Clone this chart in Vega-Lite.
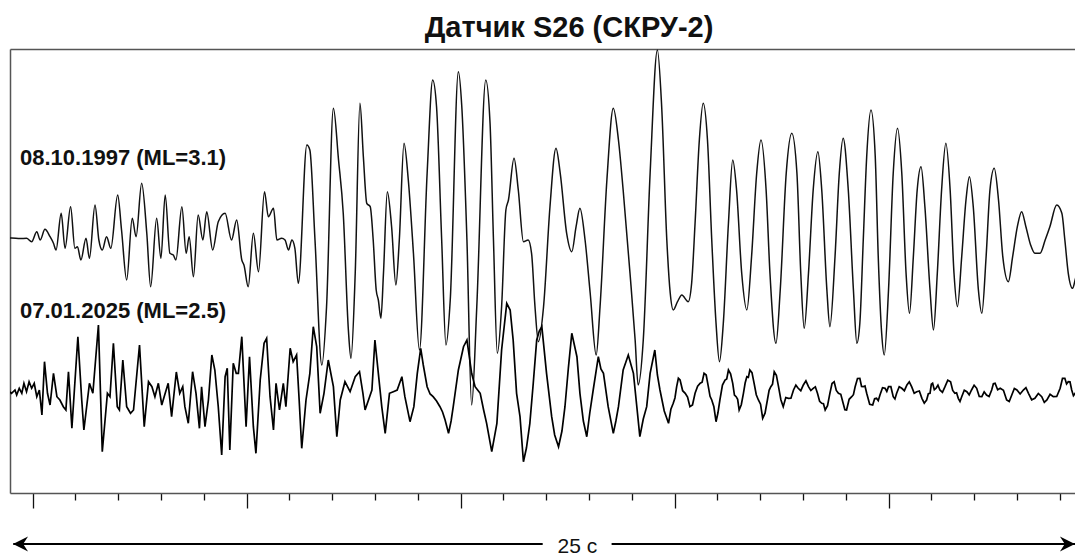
{
"$schema": "https://vega.github.io/schema/vega-lite/v6.json",
"width": 1065, "height": 444,
"autosize": {"type": "none"},
"padding": {"left": 10, "top": 49, "right": 0, "bottom": 63},
"background": "white",
"config": {"view": {"stroke": null}},
"datasets": {
"wave": [
{"s":"A","t":-0.53,"v":255},{"s":"A","t":-0.49,"v":255},{"s":"A","t":-0.29,"v":254.5},{"s":"A","t":-0.14,"v":254.7},{"s":"A","t":-0.02,"v":251.3},{"s":"A","t":0.1,"v":261.3},{"s":"A","t":0.18,"v":253},{"s":"A","t":0.29,"v":263.7},{"s":"A","t":0.41,"v":256.3},{"s":"A","t":0.49,"v":249.7},{"s":"A","t":0.55,"v":243},{"s":"A","t":0.67,"v":279.7},{"s":"A","t":0.76,"v":244.7},{"s":"A","t":0.89,"v":286.3},{"s":"A","t":0.99,"v":244.7},{"s":"A","t":1.05,"v":246.3},{"s":"A","t":1.13,"v":233},{"s":"A","t":1.25,"v":254.7},{"s":"A","t":1.33,"v":234.7},{"s":"A","t":1.46,"v":288},{"s":"A","t":1.55,"v":253},{"s":"A","t":1.63,"v":243},{"s":"A","t":1.73,"v":256.3},{"s":"A","t":1.83,"v":244.7},{"s":"A","t":1.99,"v":298},{"s":"A","t":2.08,"v":263},{"s":"A","t":2.2,"v":213},{"s":"A","t":2.33,"v":274.7},{"s":"A","t":2.42,"v":256.3},{"s":"A","t":2.55,"v":309.7},{"s":"A","t":2.67,"v":259.7},{"s":"A","t":2.76,"v":206.3},{"s":"A","t":2.9,"v":274.7},{"s":"A","t":3.0,"v":234.7},{"s":"A","t":3.1,"v":298},{"s":"A","t":3.21,"v":239.7},{"s":"A","t":3.29,"v":238},{"s":"A","t":3.35,"v":233},{"s":"A","t":3.49,"v":286.3},{"s":"A","t":3.59,"v":239.7},{"s":"A","t":3.66,"v":256.3},{"s":"A","t":3.76,"v":216.3},{"s":"A","t":3.87,"v":278},{"s":"A","t":3.98,"v":253},{"s":"A","t":4.07,"v":281.3},{"s":"A","t":4.21,"v":243},{"s":"A","t":4.34,"v":271.3},{"s":"A","t":4.5,"v":279.7},{"s":"A","t":4.65,"v":253},{"s":"A","t":4.77,"v":273},{"s":"A","t":4.89,"v":233},{"s":"A","t":4.94,"v":228},{"s":"A","t":5.04,"v":206.3},{"s":"A","t":5.16,"v":259.7},{"s":"A","t":5.28,"v":221.3},{"s":"A","t":5.42,"v":301.3},{"s":"A","t":5.51,"v":276.3},{"s":"A","t":5.63,"v":284.7},{"s":"A","t":5.71,"v":253},{"s":"A","t":5.82,"v":254.7},{"s":"A","t":5.9,"v":253},{"s":"A","t":5.98,"v":243},{"s":"A","t":6.06,"v":253},{"s":"A","t":6.13,"v":244.7},{"s":"A","t":6.21,"v":209.7},{"s":"A","t":6.41,"v":348},{"s":"A","t":6.48,"v":343},{"s":"A","t":6.6,"v":253},{"s":"A","t":6.76,"v":128},{"s":"A","t":6.87,"v":186.3},{"s":"A","t":7.03,"v":384.7},{"s":"A","t":7.15,"v":333},{"s":"A","t":7.26,"v":279.7},{"s":"A","t":7.38,"v":163},{"s":"A","t":7.44,"v":134.7},{"s":"A","t":7.54,"v":219.7},{"s":"A","t":7.65,"v":389.7},{"s":"A","t":7.73,"v":336.3},{"s":"A","t":7.81,"v":289.7},{"s":"A","t":7.89,"v":286.3},{"s":"A","t":7.96,"v":253},{"s":"A","t":8.03,"v":203},{"s":"A","t":8.08,"v":193},{"s":"A","t":8.14,"v":174.7},{"s":"A","t":8.2,"v":219.7},{"s":"A","t":8.29,"v":301.3},{"s":"A","t":8.39,"v":266.3},{"s":"A","t":8.49,"v":208},{"s":"A","t":8.57,"v":253},{"s":"A","t":8.68,"v":349.7},{"s":"A","t":8.78,"v":313},{"s":"A","t":8.9,"v":239.7},{"s":"A","t":9.04,"v":143},{"s":"A","t":9.22,"v":319.7},{"s":"A","t":9.35,"v":413},{"s":"A","t":9.44,"v":386.3},{"s":"A","t":9.56,"v":253},{"s":"A","t":9.66,"v":148},{"s":"A","t":9.76,"v":193},{"s":"A","t":9.95,"v":421.3},{"s":"A","t":10.03,"v":386.3},{"s":"A","t":10.15,"v":253},{"s":"A","t":10.26,"v":88},{"s":"A","t":10.38,"v":186.3},{"s":"A","t":10.59,"v":413},{"s":"A","t":10.69,"v":369.7},{"s":"A","t":10.77,"v":253},{"s":"A","t":10.86,"v":139.7},{"s":"A","t":10.96,"v":186.3},{"s":"A","t":11.06,"v":283},{"s":"A","t":11.12,"v":293},{"s":"A","t":11.25,"v":334.7},{"s":"A","t":11.35,"v":303},{"s":"A","t":11.47,"v":251.3},{"s":"A","t":11.58,"v":253},{"s":"A","t":11.66,"v":239.7},{"s":"A","t":11.74,"v":186.3},{"s":"A","t":11.82,"v":151.3},{"s":"A","t":11.94,"v":186.3},{"s":"A","t":12.09,"v":286.3},{"s":"A","t":12.23,"v":344.7},{"s":"A","t":12.33,"v":319.7},{"s":"A","t":12.48,"v":259.7},{"s":"A","t":12.6,"v":241.3},{"s":"A","t":12.7,"v":266.3},{"s":"A","t":12.79,"v":284.7},{"s":"A","t":12.91,"v":253},{"s":"A","t":13.03,"v":199.7},{"s":"A","t":13.17,"v":138},{"s":"A","t":13.26,"v":186.3},{"s":"A","t":13.42,"v":313},{"s":"A","t":13.57,"v":384.7},{"s":"A","t":13.69,"v":353},{"s":"A","t":13.8,"v":303},{"s":"A","t":13.96,"v":219.7},{"s":"A","t":14.08,"v":153},{"s":"A","t":14.15,"v":108},{"s":"A","t":14.27,"v":153},{"s":"A","t":14.43,"v":319.7},{"s":"A","t":14.6,"v":443},{"s":"A","t":14.7,"v":386.3},{"s":"A","t":14.82,"v":253},{"s":"A","t":14.9,"v":199.7},{"s":"A","t":14.97,"v":183},{"s":"A","t":15.07,"v":191.3},{"s":"A","t":15.17,"v":198},{"s":"A","t":15.32,"v":191.3},{"s":"A","t":15.4,"v":209.7},{"s":"A","t":15.48,"v":269.7},{"s":"A","t":15.58,"v":353},{"s":"A","t":15.67,"v":389.7},{"s":"A","t":15.77,"v":353},{"s":"A","t":15.87,"v":253},{"s":"A","t":15.97,"v":169.7},{"s":"A","t":16.05,"v":131.3},{"s":"A","t":16.14,"v":169.7},{"s":"A","t":16.26,"v":269.7},{"s":"A","t":16.36,"v":333},{"s":"A","t":16.45,"v":303},{"s":"A","t":16.57,"v":219.7},{"s":"A","t":16.69,"v":183},{"s":"A","t":16.8,"v":236.3},{"s":"A","t":16.92,"v":319.7},{"s":"A","t":17.02,"v":353},{"s":"A","t":17.14,"v":303},{"s":"A","t":17.23,"v":219.7},{"s":"A","t":17.37,"v":149.7},{"s":"A","t":17.47,"v":203},{"s":"A","t":17.61,"v":319.7},{"s":"A","t":17.74,"v":359.7},{"s":"A","t":17.86,"v":319.7},{"s":"A","t":17.95,"v":219.7},{"s":"A","t":18.03,"v":164.7},{"s":"A","t":18.13,"v":219.7},{"s":"A","t":18.24,"v":303},{"s":"A","t":18.35,"v":341.3},{"s":"A","t":18.44,"v":303},{"s":"A","t":18.56,"v":203},{"s":"A","t":18.63,"v":166.3},{"s":"A","t":18.75,"v":236.3},{"s":"A","t":18.85,"v":319.7},{"s":"A","t":18.94,"v":354.7},{"s":"A","t":19.06,"v":303},{"s":"A","t":19.18,"v":203},{"s":"A","t":19.26,"v":149.7},{"s":"A","t":19.33,"v":169.7},{"s":"A","t":19.41,"v":253},{"s":"A","t":19.49,"v":336.3},{"s":"A","t":19.59,"v":383},{"s":"A","t":19.69,"v":336.3},{"s":"A","t":19.76,"v":236.3},{"s":"A","t":19.84,"v":159.7},{"s":"A","t":19.9,"v":138},{"s":"A","t":20.0,"v":203},{"s":"A","t":20.11,"v":319.7},{"s":"A","t":20.21,"v":364.7},{"s":"A","t":20.31,"v":319.7},{"s":"A","t":20.41,"v":219.7},{"s":"A","t":20.49,"v":179.7},{"s":"A","t":20.58,"v":236.3},{"s":"A","t":20.67,"v":303},{"s":"A","t":20.76,"v":326.3},{"s":"A","t":20.85,"v":286.3},{"s":"A","t":20.97,"v":203},{"s":"A","t":21.05,"v":163},{"s":"A","t":21.14,"v":219.7},{"s":"A","t":21.24,"v":303},{"s":"A","t":21.34,"v":349.7},{"s":"A","t":21.44,"v":303},{"s":"A","t":21.53,"v":219.7},{"s":"A","t":21.61,"v":186.3},{"s":"A","t":21.71,"v":236.3},{"s":"A","t":21.81,"v":293},{"s":"A","t":21.89,"v":316.3},{"s":"A","t":21.98,"v":286.3},{"s":"A","t":22.1,"v":203},{"s":"A","t":22.18,"v":179.7},{"s":"A","t":22.28,"v":236.3},{"s":"A","t":22.37,"v":303},{"s":"A","t":22.47,"v":324.7},{"s":"A","t":22.57,"v":293},{"s":"A","t":22.67,"v":236.3},{"s":"A","t":22.8,"v":211.3},{"s":"A","t":22.9,"v":236.3},{"s":"A","t":23.01,"v":266.3},{"s":"A","t":23.11,"v":281.3},{"s":"A","t":23.21,"v":266.3},{"s":"A","t":23.32,"v":248},{"s":"A","t":23.42,"v":239.7},{"s":"A","t":23.54,"v":239.7},{"s":"A","t":23.66,"v":253},{"s":"A","t":23.77,"v":266.3},{"s":"A","t":23.93,"v":288},{"s":"A","t":24.05,"v":279.7},{"s":"A","t":24.12,"v":253},{"s":"A","t":24.2,"v":219.7},{"s":"A","t":24.3,"v":204.7},{"s":"A","t":24.36,"v":213},{"s":"A","t":24.47,"v":233},
{"s":"B","t":-0.53,"v":101},{"s":"B","t":-0.49,"v":99.7},{"s":"B","t":-0.41,"v":103},{"s":"B","t":-0.37,"v":98},{"s":"B","t":-0.31,"v":104.7},{"s":"B","t":-0.25,"v":99.7},{"s":"B","t":-0.2,"v":109.7},{"s":"B","t":-0.14,"v":101.3},{"s":"B","t":-0.08,"v":111.3},{"s":"B","t":-0.02,"v":104.7},{"s":"B","t":0.04,"v":109.7},{"s":"B","t":0.1,"v":96.3},{"s":"B","t":0.16,"v":103},{"s":"B","t":0.22,"v":78},{"s":"B","t":0.28,"v":131.3},{"s":"B","t":0.35,"v":99.7},{"s":"B","t":0.41,"v":88},{"s":"B","t":0.49,"v":119.7},{"s":"B","t":0.57,"v":96.3},{"s":"B","t":0.64,"v":93},{"s":"B","t":0.72,"v":86.3},{"s":"B","t":0.78,"v":83},{"s":"B","t":0.84,"v":121.3},{"s":"B","t":0.92,"v":64.7},{"s":"B","t":1.06,"v":156.3},{"s":"B","t":1.15,"v":93},{"s":"B","t":1.2,"v":63},{"s":"B","t":1.33,"v":109.7},{"s":"B","t":1.41,"v":99.7},{"s":"B","t":1.54,"v":168},{"s":"B","t":1.63,"v":41.3},{"s":"B","t":1.75,"v":99.7},{"s":"B","t":1.81,"v":96.3},{"s":"B","t":1.89,"v":149.7},{"s":"B","t":1.98,"v":86.3},{"s":"B","t":2.03,"v":83},{"s":"B","t":2.11,"v":133},{"s":"B","t":2.2,"v":86.3},{"s":"B","t":2.29,"v":79.7},{"s":"B","t":2.36,"v":83},{"s":"B","t":2.5,"v":148},{"s":"B","t":2.61,"v":66.3},{"s":"B","t":2.71,"v":111.3},{"s":"B","t":2.79,"v":106.3},{"s":"B","t":2.86,"v":96.3},{"s":"B","t":2.94,"v":109.7},{"s":"B","t":3.02,"v":88},{"s":"B","t":3.1,"v":99.7},{"s":"B","t":3.17,"v":109.7},{"s":"B","t":3.25,"v":76.3},{"s":"B","t":3.36,"v":121},{"s":"B","t":3.44,"v":99.7},{"s":"B","t":3.51,"v":106.3},{"s":"B","t":3.56,"v":86.3},{"s":"B","t":3.64,"v":69.7},{"s":"B","t":3.74,"v":121.3},{"s":"B","t":3.82,"v":99.7},{"s":"B","t":3.9,"v":64.7},{"s":"B","t":3.95,"v":106.3},{"s":"B","t":4.03,"v":66.3},{"s":"B","t":4.11,"v":93},{"s":"B","t":4.19,"v":138},{"s":"B","t":4.26,"v":123},{"s":"B","t":4.34,"v":86.3},{"s":"B","t":4.42,"v":38},{"s":"B","t":4.5,"v":116.3},{"s":"B","t":4.55,"v":124.7},{"s":"B","t":4.61,"v":43},{"s":"B","t":4.69,"v":129.7},{"s":"B","t":4.76,"v":119.7},{"s":"B","t":4.81,"v":119.7},{"s":"B","t":4.89,"v":156.3},{"s":"B","t":4.99,"v":66.3},{"s":"B","t":5.07,"v":136.3},{"s":"B","t":5.16,"v":66.3},{"s":"B","t":5.22,"v":39.7},{"s":"B","t":5.32,"v":113},{"s":"B","t":5.41,"v":149.7},{"s":"B","t":5.47,"v":154.7},{"s":"B","t":5.55,"v":96.3},{"s":"B","t":5.63,"v":63},{"s":"B","t":5.69,"v":109.7},{"s":"B","t":5.77,"v":83},{"s":"B","t":5.86,"v":109.7},{"s":"B","t":5.92,"v":86.3},{"s":"B","t":6.02,"v":144.7},{"s":"B","t":6.09,"v":131.3},{"s":"B","t":6.17,"v":138},{"s":"B","t":6.23,"v":93},{"s":"B","t":6.29,"v":44.7},{"s":"B","t":6.39,"v":93},{"s":"B","t":6.48,"v":119.7},{"s":"B","t":6.56,"v":166.3},{"s":"B","t":6.64,"v":146.3},{"s":"B","t":6.72,"v":79.7},{"s":"B","t":6.81,"v":99.7},{"s":"B","t":6.91,"v":133},{"s":"B","t":7.03,"v":106.3},{"s":"B","t":7.11,"v":56.3},{"s":"B","t":7.19,"v":93},{"s":"B","t":7.3,"v":111.3},{"s":"B","t":7.42,"v":101.3},{"s":"B","t":7.54,"v":116.3},{"s":"B","t":7.64,"v":121.3},{"s":"B","t":7.72,"v":99.7},{"s":"B","t":7.77,"v":83},{"s":"B","t":7.93,"v":103},{"s":"B","t":8.0,"v":153},{"s":"B","t":8.08,"v":119.7},{"s":"B","t":8.16,"v":86.3},{"s":"B","t":8.24,"v":59.7},{"s":"B","t":8.34,"v":99.7},{"s":"B","t":8.43,"v":101.3},{"s":"B","t":8.52,"v":103},{"s":"B","t":8.63,"v":116.3},{"s":"B","t":8.7,"v":96.3},{"s":"B","t":8.82,"v":71.3},{"s":"B","t":8.91,"v":86.3},{"s":"B","t":8.99,"v":119.7},{"s":"B","t":9.07,"v":144.7},{"s":"B","t":9.13,"v":128},{"s":"B","t":9.22,"v":106.3},{"s":"B","t":9.29,"v":99},{"s":"B","t":9.36,"v":96.3},{"s":"B","t":9.44,"v":92},{"s":"B","t":9.52,"v":86.3},{"s":"B","t":9.58,"v":81},{"s":"B","t":9.64,"v":73},{"s":"B","t":9.72,"v":59.7},{"s":"B","t":9.78,"v":72},{"s":"B","t":9.83,"v":86.3},{"s":"B","t":9.95,"v":123},{"s":"B","t":10.07,"v":146.3},{"s":"B","t":10.15,"v":153},{"s":"B","t":10.26,"v":119.7},{"s":"B","t":10.34,"v":106.3},{"s":"B","t":10.4,"v":103},{"s":"B","t":10.46,"v":99.7},{"s":"B","t":10.54,"v":83},{"s":"B","t":10.61,"v":69.7},{"s":"B","t":10.73,"v":41.3},{"s":"B","t":10.85,"v":69.7},{"s":"B","t":10.96,"v":143},{"s":"B","t":11.08,"v":189.7},{"s":"B","t":11.16,"v":183},{"s":"B","t":11.23,"v":153},{"s":"B","t":11.31,"v":99.7},{"s":"B","t":11.39,"v":76.3},{"s":"B","t":11.47,"v":31.3},{"s":"B","t":11.54,"v":45},{"s":"B","t":11.62,"v":69.7},{"s":"B","t":11.7,"v":110},{"s":"B","t":11.78,"v":153},{"s":"B","t":11.84,"v":162},{"s":"B","t":11.9,"v":166.3},{"s":"B","t":12.01,"v":119.7},{"s":"B","t":12.13,"v":76.3},{"s":"B","t":12.2,"v":58},{"s":"B","t":12.29,"v":46.3},{"s":"B","t":12.37,"v":62},{"s":"B","t":12.44,"v":86.3},{"s":"B","t":12.52,"v":125},{"s":"B","t":12.6,"v":159.7},{"s":"B","t":12.66,"v":148},{"s":"B","t":12.72,"v":136.3},{"s":"B","t":12.79,"v":99.7},{"s":"B","t":12.87,"v":72},{"s":"B","t":12.95,"v":56.3},{"s":"B","t":13.02,"v":80},{"s":"B","t":13.1,"v":103},{"s":"B","t":13.22,"v":136.3},{"s":"B","t":13.28,"v":124},{"s":"B","t":13.34,"v":119.7},{"s":"B","t":13.45,"v":86.3},{"s":"B","t":13.57,"v":59.7},{"s":"B","t":13.63,"v":72},{"s":"B","t":13.69,"v":86.3},{"s":"B","t":13.8,"v":123},{"s":"B","t":13.92,"v":138},{"s":"B","t":14.04,"v":119.7},{"s":"B","t":14.12,"v":86},{"s":"B","t":14.19,"v":56.3},{"s":"B","t":14.27,"v":74},{"s":"B","t":14.35,"v":86.3},{"s":"B","t":14.43,"v":119.7},{"s":"B","t":14.54,"v":143},{"s":"B","t":14.6,"v":118},{"s":"B","t":14.66,"v":103},{"s":"B","t":14.76,"v":82},{"s":"B","t":14.86,"v":69.7},
{"s":"B","t":14.915,"v":83.7},{"s":"B","t":14.97,"v":89.7},{"s":"B","t":15.01,"v":95},{"s":"B","t":15.05,"v":106.3},{"s":"B","t":15.09,"v":114.7},{"s":"B","t":15.13,"v":113},{"s":"B","t":15.19,"v":102.3},{"s":"B","t":15.25,"v":99.7},{"s":"B","t":15.305,"v":96},{"s":"B","t":15.36,"v":86.3},{"s":"B","t":15.42,"v":88},{"s":"B","t":15.48,"v":99.7},{"s":"B","t":15.54,"v":106.7},{"s":"B","t":15.6,"v":109.7},{"s":"B","t":15.645,"v":110.7},{"s":"B","t":15.69,"v":119.7},{"s":"B","t":15.74,"v":118},{"s":"B","t":15.79,"v":106.3},{"s":"B","t":15.83,"v":96.7},{"s":"B","t":15.87,"v":93},{"s":"B","t":15.92,"v":86.2},{"s":"B","t":15.97,"v":71.3},{"s":"B","t":16.015,"v":80.2},{"s":"B","t":16.06,"v":93},{"s":"B","t":16.12,"v":108},{"s":"B","t":16.18,"v":113},{"s":"B","t":16.22,"v":114},{"s":"B","t":16.26,"v":123},{"s":"B","t":16.31,"v":119.3},{"s":"B","t":16.36,"v":109.7},{"s":"B","t":16.4,"v":98},{"s":"B","t":16.44,"v":96.3},{"s":"B","t":16.475,"v":93.7},{"s":"B","t":16.51,"v":83},{"s":"B","t":16.56,"v":88.3},{"s":"B","t":16.61,"v":99.7},{"s":"B","t":16.65,"v":110},{"s":"B","t":16.69,"v":116.3},{"s":"B","t":16.725,"v":115.7},{"s":"B","t":16.76,"v":123},{"s":"B","t":16.81,"v":120.3},{"s":"B","t":16.86,"v":109.7},{"s":"B","t":16.91,"v":98.3},{"s":"B","t":16.96,"v":93},{"s":"B","t":17.01,"v":88.8},{"s":"B","t":17.06,"v":74.7},{"s":"B","t":17.115,"v":79.8},{"s":"B","t":17.17,"v":93},{"s":"B","t":17.21,"v":102.7},{"s":"B","t":17.25,"v":106.3},{"s":"B","t":17.29,"v":108.8},{"s":"B","t":17.33,"v":121.3},{"s":"B","t":17.38,"v":117.8},{"s":"B","t":17.43,"v":106.3},{"s":"B","t":17.485,"v":93.3},{"s":"B","t":17.54,"v":86.3},{"s":"B","t":17.6,"v":95.5},{"s":"B","t":17.66,"v":94.7},{"s":"B","t":17.72,"v":94.8},{"s":"B","t":17.78,"v":103},{"s":"B","t":17.835,"v":107.8},{"s":"B","t":17.89,"v":104.7},{"s":"B","t":17.95,"v":102.3},{"s":"B","t":18.01,"v":108},{"s":"B","t":18.07,"v":112.2},{"s":"B","t":18.13,"v":106.3},{"s":"B","t":18.185,"v":102.5},{"s":"B","t":18.24,"v":104.7},{"s":"B","t":18.29,"v":106.2},{"s":"B","t":18.34,"v":99.7},{"s":"B","t":18.39,"v":91.7},{"s":"B","t":18.44,"v":89.7},{"s":"B","t":18.48,"v":89.3},{"s":"B","t":18.52,"v":83},{"s":"B","t":18.575,"v":87.3},{"s":"B","t":18.63,"v":99.7},{"s":"B","t":18.68,"v":109.5},{"s":"B","t":18.73,"v":111.3},{"s":"B","t":18.78,"v":102.5},{"s":"B","t":18.83,"v":99.7},{"s":"B","t":18.885,"v":98.7},{"s":"B","t":18.94,"v":89.7},{"s":"B","t":18.98,"v":83.3},{"s":"B","t":19.02,"v":83},{"s":"B","t":19.08,"v":93.7},{"s":"B","t":19.14,"v":96.3},{"s":"B","t":19.18,"v":98.3},{"s":"B","t":19.22,"v":106.3},{"s":"B","t":19.275,"v":114.5},{"s":"B","t":19.33,"v":114.7},{"s":"B","t":19.37,"v":106.5},{"s":"B","t":19.41,"v":106.3},{"s":"B","t":19.45,"v":107},{"s":"B","t":19.49,"v":99.7},{"s":"B","t":19.56,"v":88.8},{"s":"B","t":19.63,"v":88},{"s":"B","t":19.675,"v":94.3},{"s":"B","t":19.72,"v":94.7},{"s":"B","t":19.76,"v":92.3},{"s":"B","t":19.8,"v":98},{"s":"B","t":19.86,"v":105.3},{"s":"B","t":19.92,"v":104.7},{"s":"B","t":19.96,"v":101.5},{"s":"B","t":20.0,"v":106.3},{"s":"B","t":20.055,"v":106.3},{"s":"B","t":20.11,"v":96.3},{"s":"B","t":20.15,"v":94},{"s":"B","t":20.19,"v":99.7},{"s":"B","t":20.25,"v":106.2},{"s":"B","t":20.31,"v":104.7},{"s":"B","t":20.37,"v":102.3},{"s":"B","t":20.43,"v":108},{"s":"B","t":20.485,"v":111.2},{"s":"B","t":20.54,"v":106.3},{"s":"B","t":20.6,"v":99.8},{"s":"B","t":20.66,"v":101.3},{"s":"B","t":20.72,"v":102},{"s":"B","t":20.78,"v":94.7},{"s":"B","t":20.835,"v":89.8},{"s":"B","t":20.89,"v":93},{"s":"B","t":20.93,"v":99.3},{"s":"B","t":20.97,"v":99.7},{"s":"B","t":21.0,"v":108.7},{"s":"B","t":21.03,"v":109.7},{"s":"B","t":21.07,"v":103.2},{"s":"B","t":21.11,"v":104.7},{"s":"B","t":21.155,"v":107.8},{"s":"B","t":21.2,"v":103},{"s":"B","t":21.26,"v":100.7},{"s":"B","t":21.32,"v":106.3},{"s":"B","t":21.385,"v":112.8},{"s":"B","t":21.45,"v":111.3},{"s":"B","t":21.5,"v":102.5},{"s":"B","t":21.55,"v":99.7},{"s":"B","t":21.59,"v":100.2},{"s":"B","t":21.63,"v":94.7},{"s":"B","t":21.67,"v":91.5},{"s":"B","t":21.71,"v":96.3},{"s":"B","t":21.77,"v":102.8},{"s":"B","t":21.83,"v":101.3},{"s":"B","t":21.885,"v":98.2},{"s":"B","t":21.94,"v":103},{"s":"B","t":22.0,"v":107.8},{"s":"B","t":22.06,"v":104.7},{"s":"B","t":22.12,"v":96.5},{"s":"B","t":22.18,"v":96.3},{"s":"B","t":22.235,"v":101.2},{"s":"B","t":22.29,"v":98},{"s":"B","t":22.35,"v":96.5},{"s":"B","t":22.41,"v":103},{"s":"B","t":22.45,"v":109.3},{"s":"B","t":22.49,"v":109.7},{"s":"B","t":22.55,"v":103.2},{"s":"B","t":22.61,"v":104.7},{"s":"B","t":22.685,"v":102.8},{"s":"B","t":22.76,"v":93},{"s":"B","t":22.82,"v":91.5},{"s":"B","t":22.88,"v":98},{"s":"B","t":22.94,"v":104.5},{"s":"B","t":23.0,"v":103},{"s":"B","t":23.075,"v":99},{"s":"B","t":23.15,"v":103},{"s":"B","t":23.21,"v":105.3},{"s":"B","t":23.27,"v":99.7},{"s":"B","t":23.345,"v":93.2},{"s":"B","t":23.42,"v":94.7},{"s":"B","t":23.5,"v":99.5},{"s":"B","t":23.58,"v":96.3},{"s":"B","t":23.64,"v":90.7},{"s":"B","t":23.7,"v":93},{"s":"B","t":23.775,"v":98.7},{"s":"B","t":23.85,"v":96.3},{"s":"B","t":23.93,"v":96.5},{"s":"B","t":24.01,"v":104.7},{"s":"B","t":24.065,"v":114.7},{"s":"B","t":24.12,"v":114.7},{"s":"B","t":24.16,"v":109},{"s":"B","t":24.2,"v":111.3},{"s":"B","t":24.24,"v":111.2},{"s":"B","t":24.28,"v":103},{"s":"B","t":24.32,"v":97.3},{"s":"B","t":24.36,"v":99.7},{"s":"B","t":24.415,"v":103.3},{"s":"B","t":24.47,"v":101}
],
"arrow": [{"t1": -0.45, "t2": 11.92, "v": -51}, {"t1": 13.53, "t2": 24.36, "v": -51}],
"heads": [{"dir": "left", "t": -0.28, "v": -51}, {"dir": "right", "t": 24.18, "v": -51}],
"labels": [{"txt": "08.10.1997 (ML=3.1)", "t": -0.292, "v": 328}, {"txt": "07.01.2025 (ML=2.5)", "t": -0.292, "v": 175}],
"titles": [{"txt": "Датчик S26 (СКРУ-2)", "t": 12.535, "v": 456}],
"scale": [{"txt": "25 с", "t": 12.73, "v": -60}]
},
"layer": [
{
"data": {"name": "wave"},
"transform": [{"filter": "datum.s === 'A'"}],
"mark": {"type": "line", "interpolate": "monotone", "clip": true, "color": "#111", "strokeWidth": 1.5},
"encoding": {
"x": {"field": "t", "type": "quantitative", "scale": {"domain": [-0.526, 24.357], "nice": false, "zero": false},
"axis": {"orient": "bottom", "values": [0,1,2,3,4,5,6,7,8,9,10,11,12,13,14,15,16,17,18,19,20,21,22,23,24], "labels": false, "grid": false, "title": null, "domainColor": "#555", "domainWidth": 1.5, "tickColor": "#111", "tickWidth": 1.3, "tickSize": {"condition": {"test": "datum.value % 5 === 0", "value": 15}, "value": 7}}},
"y": {"field": "v", "type": "quantitative", "scale": {"domain": [0, 444], "nice": false, "zero": false},
"axis": {"domain": true, "ticks": false, "labels": false, "grid": false, "title": null, "domainColor": "#555", "domainWidth": 1.5}}
}
},
{
"data": {"name": "wave"},
"transform": [{"filter": "datum.s === 'B'"}],
"mark": {"type": "line", "interpolate": "linear", "clip": true, "color": "#000", "strokeWidth": 1.7},
"encoding": {
"x": {"field": "t", "type": "quantitative", "axis": null},
"y": {"field": "v", "type": "quantitative", "axis": null}
}
},
{
"data": {"values": []},
"mark": {"type": "rule"},
"encoding": {
"x": {"field": "t", "type": "quantitative", "axis": {"orient": "top", "domain": true, "ticks": false, "labels": false, "grid": false, "title": null, "domainColor": "#555", "domainWidth": 1.5}}
}
},
{
"data": {"name": "arrow"},
"mark": {"type": "rule", "strokeWidth": 2.2, "color": "#000"},
"encoding": {
"x": {"field": "t1", "type": "quantitative", "axis": null},
"x2": {"field": "t2"},
"y": {"field": "v", "type": "quantitative", "axis": null}
}
},
{
"data": {"name": "heads"},
"mark": {"type": "point", "filled": true, "opacity": 1, "color": "#000", "size": 225},
"encoding": {
"x": {"field": "t", "type": "quantitative", "axis": null},
"y": {"field": "v", "type": "quantitative", "axis": null},
"shape": {"field": "dir", "type": "nominal", "scale": {"domain": ["left", "right"], "range": ["M -1 0 L 1 -1 L 0.35 0 L 1 1 Z", "M 1 0 L -1 -1 L -0.35 0 L -1 1 Z"]}, "legend": null}
}
},
{
"data": {"name": "labels"},
"mark": {"type": "text", "align": "left", "baseline": "alphabetic", "font": "Liberation Sans", "fontSize": 22, "fontWeight": "bold", "color": "#111"},
"encoding": {
"x": {"field": "t", "type": "quantitative", "axis": null},
"y": {"field": "v", "type": "quantitative", "axis": null},
"text": {"field": "txt"}
}
},
{
"data": {"name": "titles"},
"mark": {"type": "text", "align": "center", "baseline": "alphabetic", "font": "Liberation Sans", "fontSize": 29, "fontWeight": "bold", "color": "#111"},
"encoding": {
"x": {"field": "t", "type": "quantitative", "axis": null},
"y": {"field": "v", "type": "quantitative", "axis": null},
"text": {"field": "txt"}
}
},
{
"data": {"name": "scale"},
"mark": {"type": "text", "align": "center", "baseline": "alphabetic", "font": "Liberation Sans", "fontSize": 21, "color": "#111"},
"encoding": {
"x": {"field": "t", "type": "quantitative", "axis": null},
"y": {"field": "v", "type": "quantitative", "axis": null},
"text": {"field": "txt"}
}
}
],
"resolve": {"axis": {"x": "independent", "y": "independent"}}
}
